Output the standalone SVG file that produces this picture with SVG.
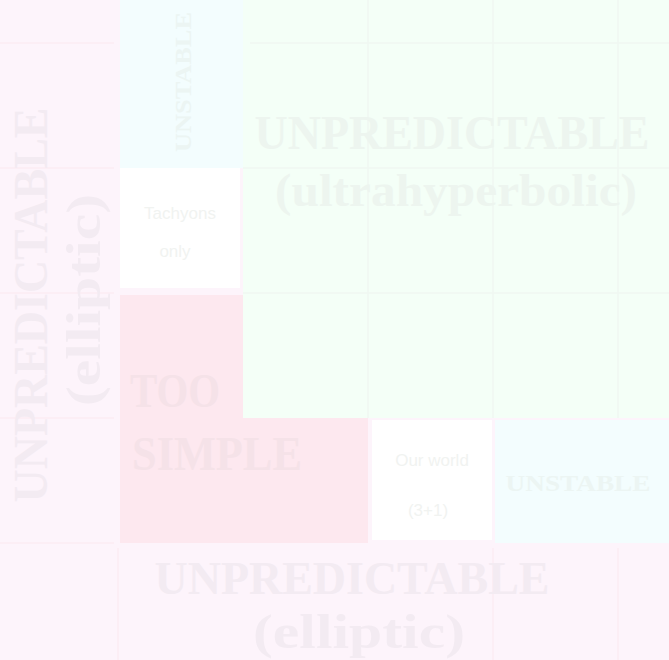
<svg xmlns="http://www.w3.org/2000/svg" width="669" height="660" viewBox="0 0 669 660">
<style>
.big{font-family:"Liberation Serif","Times New Roman",serif;font-weight:bold}
.sm{font-family:"Liberation Sans",Arial,sans-serif}
.tl{fill:#f3ebf2}
.tg{fill:#edf5ef}
.tp{fill:#f5e2e8}
.tc{fill:#ecf5f3}
.tw{fill:#f1f3f1}
.gl{stroke:#f0f8f2;stroke-width:1.5;fill:none}
.ll{stroke:#fbebf3;stroke-width:1.5;fill:none}
</style>
<rect width="669" height="660" fill="#fdf4fb"/>
<g id="ultrahyperbolic">
<rect x="243" y="0" width="426" height="418" fill="#f4fff7"/>
<path class="gl" d="M250 43H669M368 0V418M493 0V418M618 0V418M243 168H669M243 293H669"/>
<text class="big tg" x="452" y="149" font-size="48" text-anchor="middle" textLength="395" lengthAdjust="spacingAndGlyphs">UNPREDICTABLE</text>
<text class="big tg" x="456" y="206" font-size="46" text-anchor="middle" textLength="362" lengthAdjust="spacingAndGlyphs">(ultrahyperbolic)</text>
</g>
<g id="elliptic-left">
<path class="ll" d="M0 43H114M0 168H114M0 293H114M0 418H114M0 543H114"/>
<text class="big tl" transform="translate(47,305) rotate(-90)" font-size="48" text-anchor="middle" textLength="395" lengthAdjust="spacingAndGlyphs">UNPREDICTABLE</text>
<text class="big tl" transform="translate(100,300) rotate(-90)" font-size="48" text-anchor="middle" textLength="212" lengthAdjust="spacingAndGlyphs">(elliptic)</text>
</g>
<g id="elliptic-bottom">
<path class="ll" d="M118 548V660M493 548V660M618 548V660"/>
<text class="big tl" x="352" y="594" font-size="46" text-anchor="middle" textLength="395" lengthAdjust="spacingAndGlyphs">UNPREDICTABLE</text>
<text class="big tl" x="359" y="648" font-size="48" text-anchor="middle" textLength="212" lengthAdjust="spacingAndGlyphs">(elliptic)</text>
</g>
<g id="unstable-vertical">
<rect x="120" y="0" width="123" height="168" fill="#f3fdfe"/>
<text class="big tc" transform="translate(191,82) rotate(-90)" font-size="24" text-anchor="middle" textLength="140" lengthAdjust="spacingAndGlyphs">UNSTABLE</text>
</g>
<g id="tachyons">
<rect x="120" y="168" width="120" height="120" fill="#ffffff"/>
<text class="sm tw" x="180" y="219" font-size="17" text-anchor="middle">Tachyons</text>
<text class="sm tw" x="175" y="257" font-size="17" text-anchor="middle">only</text>
</g>
<g id="too-simple">
<path d="M120 295H243V418H368V543H120Z" fill="#fde8ef"/>
<text class="big tp" x="130" y="407" font-size="48" textLength="90" lengthAdjust="spacingAndGlyphs">TOO</text>
<text class="big tp" x="132" y="470" font-size="48" textLength="170" lengthAdjust="spacingAndGlyphs">SIMPLE</text>
</g>
<g id="our-world">
<rect x="372" y="420" width="120" height="120" fill="#ffffff"/>
<text class="sm tw" x="432" y="466" font-size="17" text-anchor="middle">Our world</text>
<text class="sm tw" x="428" y="516" font-size="17" text-anchor="middle">(3+1)</text>
</g>
<g id="unstable-horizontal">
<rect x="495" y="420" width="174" height="123" fill="#f3fdfe"/>
<text class="big tc" x="578" y="491" font-size="24" text-anchor="middle" textLength="145" lengthAdjust="spacingAndGlyphs">UNSTABLE</text>
</g>
</svg>
